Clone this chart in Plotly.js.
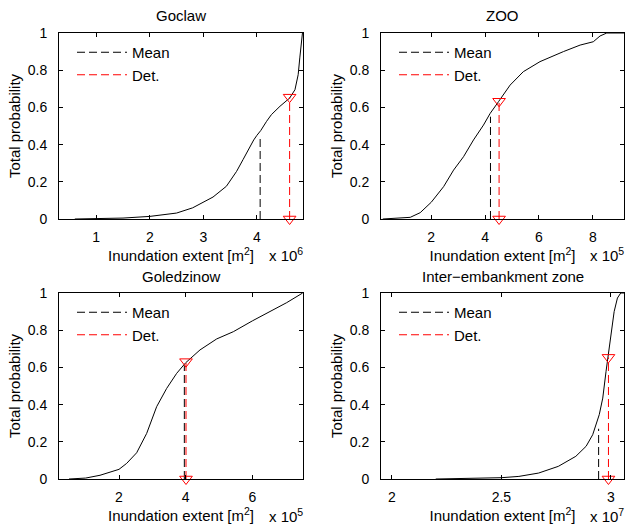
<!DOCTYPE html>
<html>
<head>
<meta charset="utf-8">
<script src="https://cdn.plot.ly/plotly-3.0.1.min.js"></script>
<style>html,body{margin:0;padding:0;background:#fff;}#chart{width:627px;height:528px;}</style>
</head>
<body>
<div id="chart"></div>
<script>
// ---- Data (x values in units of the axis multiplier shown beside each x axis) ----
const panelTitles = ["Goclaw", "ZOO", "Goledzinow", "Inter\u2212embankment zone"];
const exponents = [6, 5, 5, 7];

const goclawExtent = [0.6, 1.0, 1.5, 2.0, 2.5, 2.8, 3.0, 3.18, 3.43, 3.62, 3.74, 3.87, 3.94, 4.0, 4.07, 4.18, 4.27, 4.43, 4.61, 4.71, 4.77, 4.80, 4.83, 4.85];
const goclawProb   = [0, 0.002, 0.005, 0.014, 0.032, 0.06, 0.09, 0.118, 0.176, 0.256, 0.319, 0.39, 0.425, 0.45, 0.475, 0.525, 0.561, 0.606, 0.65, 0.695, 0.776, 0.866, 0.973, 1.0];

const zooExtent = [0.2, 0.8, 1.22, 1.59, 2.0, 2.46, 2.83, 3.2, 3.57, 3.94, 4.19, 4.5, 4.93, 5.42, 6.04, 6.91, 7.53, 8.02, 8.27, 8.52, 9.16];
const zooProb   = [0, 0.003, 0.009, 0.034, 0.09, 0.174, 0.263, 0.335, 0.425, 0.505, 0.568, 0.631, 0.72, 0.792, 0.846, 0.9, 0.935, 0.953, 0.984, 1.0, 1.0];

const goledzinowExtent = [0.5, 1.0, 1.43, 2.0, 2.23, 2.53, 2.83, 3.13, 3.43, 3.73, 4.0, 4.43, 4.93, 5.43, 6.0, 6.63, 7.03, 7.51];
const goledzinowProb   = [0, 0.005, 0.02, 0.052, 0.084, 0.141, 0.245, 0.389, 0.487, 0.568, 0.625, 0.694, 0.753, 0.792, 0.85, 0.909, 0.948, 1.0];

const interExtent = [2.2, 2.4, 2.5, 2.58, 2.67, 2.76, 2.84, 2.887, 2.917, 2.947, 2.963, 2.978, 2.99, 3.0, 3.015, 3.03, 3.045, 3.06];
const interProb   = [0, 0.003, 0.007, 0.014, 0.032, 0.068, 0.122, 0.176, 0.238, 0.346, 0.435, 0.579, 0.686, 0.794, 0.9, 0.973, 1.0, 1.0];

const meanExtent = [4.06, 4.2, 3.96, 2.944];
const meanProb   = [0.45, 0.55, 0.61, 0.27];
const detExtent  = [4.61, 4.52, 4.01, 2.989];
const detProb    = [0.655, 0.633, 0.631, 0.654];

const xRanges = [[0.305, 4.86], [0.134, 9.16], [0.2, 7.52], [1.95, 3.06]];
const xDticks = [1, 2, 2, 0.5];

// ---- Build ----
const curves = [[goclawExtent, goclawProb], [zooExtent, zooProb], [goledzinowExtent, goledzinowProb], [interExtent, interProb]];
const FONT = "Liberation Sans, Arial, Helvetica, sans-serif";
const DASH = "8px,4px";
const traces = [];
const layout = {
  width: 627, height: 528,
  margin: {l: 0, r: 0, t: 0, b: 0},
  paper_bgcolor: "#fff", plot_bgcolor: "#fff",
  font: {family: FONT, size: 15, color: "#000"},
  showlegend: true,
  annotations: [], shapes: []
};

const px = v => v / 627;
const py = v => (528 - v) / 528;
const xDom = [[59, 303], [381, 624], [59, 303], [381, 624]];
const yDom = [[33, 219], [33, 219], [293, 479], [293, 479]];

for (let i = 0; i < 4; i++) {
  const n = i === 0 ? "" : String(i + 1);
  const xa = "x" + n, ya = "y" + n;
  const leg = "legend" + n;
  traces.push({x: curves[i][0], y: curves[i][1], xaxis: xa, yaxis: ya, mode: "lines",
    line: {color: "#000", width: 1}, showlegend: false, hoverinfo: "skip"});
  traces.push({x: [meanExtent[i], meanExtent[i]], y: [0, meanProb[i]], xaxis: xa, yaxis: ya, mode: "lines",
    name: "Mean", legend: leg, line: {color: "#000", width: 1, dash: DASH}});
  traces.push({x: [detExtent[i], detExtent[i]], y: [0, detProb[i]], xaxis: xa, yaxis: ya, mode: "lines",
    name: "Det.", legend: leg, line: {color: "#ff0000", width: 1, dash: DASH}});
  traces.push({x: [detExtent[i], detExtent[i]], y: [0, detProb[i]], xaxis: xa, yaxis: ya, mode: "markers",
    showlegend: false, cliponaxis: false,
    marker: {symbol: "triangle-down-open", size: 11, color: "#ff0000", line: {color: "#ff0000", width: 1}}});

  const [xl, xr] = xDom[i], [yt, yb] = yDom[i];
  layout["xaxis" + n] = {
    domain: [px(xl), px(xr)], anchor: ya, range: xRanges[i], dtick: xDticks[i], tick0: 0,
    showline: true, linecolor: "#000", linewidth: 1, mirror: "ticks",
    ticks: "inside", ticklen: 4, tickcolor: "#000", showgrid: false, zeroline: false,
    tickfont: {size: 14, family: FONT, color: "#000"}, ticklabelstandoff: 5,
    title: {text: "Inundation extent [m<sup>2</sup>]", font: {size: 15, family: FONT, color: "#000"}, standoff: 2}
  };
  layout["yaxis" + n] = {
    domain: [py(yb), py(yt)], anchor: xa, range: [0, 1], dtick: 0.2,
    showline: true, linecolor: "#000", linewidth: 1, mirror: "ticks",
    ticks: "inside", ticklen: 4, tickcolor: "#000", showgrid: false, zeroline: false,
    tickfont: {size: 14, family: FONT, color: "#000"}, ticklabelstandoff: 8,
    title: {text: "Total probability", font: {size: 15, family: FONT, color: "#000"}, standoff: 3}
  };
  layout[leg] = {
    x: px(xl + 13), y: py(yt + 3), xanchor: "left", yanchor: "top",
    bgcolor: "rgba(0,0,0,0)", borderwidth: 0, font: {size: 15, family: FONT, color: "#000"},
    itemwidth: 50, tracegroupgap: 0
  };
  layout.annotations.push({
    text: panelTitles[i], xref: "paper", yref: "paper", x: px((xl + xr) / 2), y: py(yt - 17),
    xanchor: "center", yanchor: "middle", showarrow: false, font: {size: 15, family: FONT, color: "#000"}
  });
  layout.annotations.push({
    text: "x 10<sup>" + exponents[i] + "</sup>", xref: "paper", yref: "paper", x: px(xr - 36), y: py(yb + 36),
    xanchor: "left", yanchor: "middle", showarrow: false, font: {size: 15, family: FONT, color: "#000"}
  });
}

Plotly.newPlot("chart", traces, layout, {staticPlot: true, displayModeBar: false});
</script>
</body>
</html>
